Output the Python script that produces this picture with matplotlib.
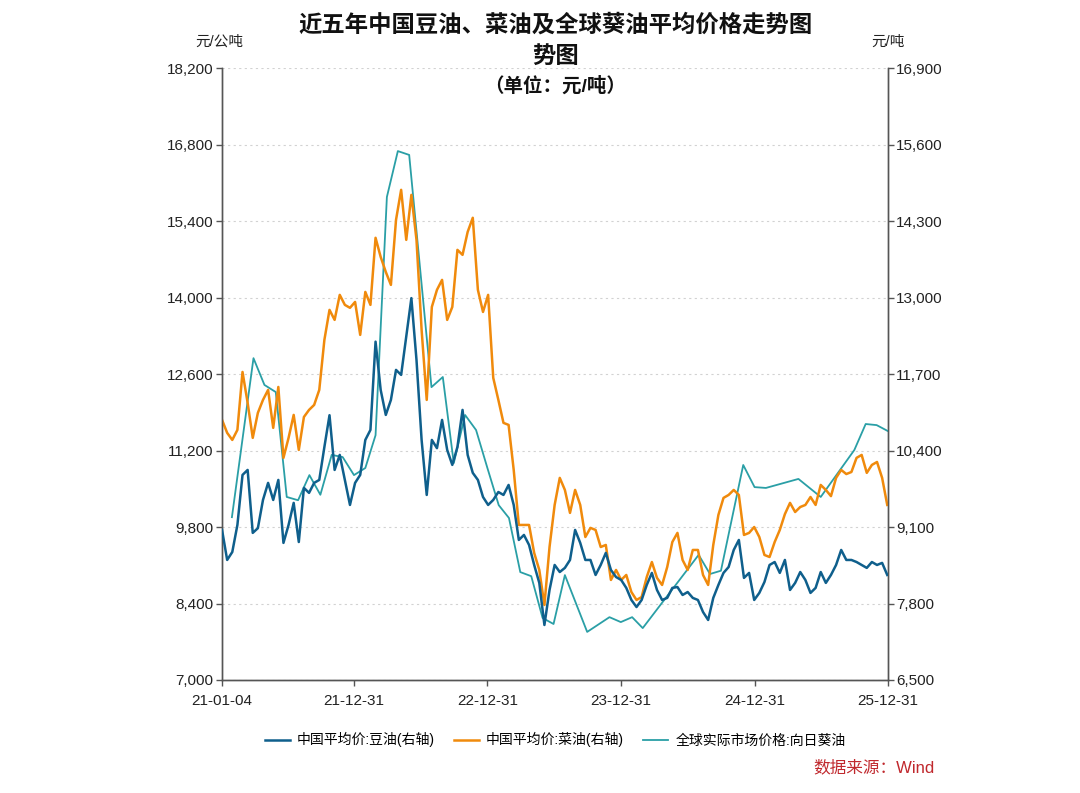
import numpy as np
import pandas as pd
import matplotlib
matplotlib.use("Agg")
import matplotlib.pyplot as plt
import matplotlib.dates as mdates
from matplotlib.ticker import FuncFormatter, FixedLocator

plt.rcParams['font.family'] = ['Liberation Sans', 'Noto Sans CJK SC', 'DejaVu Sans']

# --- data ---
# soybean / rapeseed oil, China average price, yuan/t (right axis), sampled every 14 days
pair_dates = pd.date_range('2021-01-04', periods=131, freq='14D')

soy_oil = [9050, 8540, 8675, 9135, 9985, 10070, 9000, 9080, 9560, 9850,
           9560, 9900, 8830, 9135, 9510, 8845, 9765, 9680, 9850, 9900,
           10460, 11000, 10070, 10325, 9900, 9475, 9850, 9985, 10580, 10750,
           12250, 11430, 11005, 11260, 11770, 11685, 12340, 12990, 11940, 10580,
           9645, 10580, 10440, 10920, 10410, 10155, 10460, 11090, 10325, 10020,
           9900, 9610, 9475, 9560, 9695, 9645, 9815, 9475, 8880, 8965,
           8795, 8455, 8150, 7435, 8030, 8455, 8335, 8405, 8540, 9050,
           8830, 8540, 8540, 8285, 8455, 8660, 8370, 8250, 8200, 8065,
           7860, 7740, 7860, 8115, 8320, 8030, 7860, 7895, 8065, 8080,
           7945, 7995, 7895, 7860, 7655, 7520, 7895, 8115, 8320, 8420,
           8710, 8880, 8235, 8320, 7860, 7980, 8165, 8455, 8505, 8320,
           8540, 8030, 8150, 8335, 8200, 7980, 8065, 8335, 8150, 8285,
           8455, 8710, 8540, 8540, 8505, 8455, 8405, 8505, 8455, 8490,
           8285]

rapeseed_oil = [10920, 10700, 10580, 10750, 11735, 11210, 10615, 11040, 11260, 11430,
                10785, 11480, 10275, 10615, 11005, 10410, 10970, 11090, 11175, 11430,
                12280, 12790, 12620, 13045, 12875, 12825, 12925, 12365, 13095, 12875,
                14015, 13690, 13435, 13215, 14320, 14830, 13980, 14745, 13980, 12450,
                11260, 12840, 13130, 13300, 12620, 12840, 13810, 13725, 14115, 14355,
                13130, 12755, 13045, 11635, 11260, 10870, 10835, 10070, 9135, 9135,
                9135, 8660, 8370, 7775, 8760, 9475, 9935, 9730, 9340, 9730,
                9475, 8930, 9085, 9050, 8760, 8795, 8200, 8370, 8200, 8285,
                7995, 7860, 7910, 8250, 8505, 8235, 8115, 8420, 8845, 9000,
                8540, 8370, 8710, 8710, 8285, 8115, 8795, 9305, 9595, 9645,
                9730, 9645, 8965, 9000, 9100, 8930, 8625, 8590, 8845, 9050,
                9320, 9510, 9355, 9440, 9475, 9610, 9475, 9815, 9730, 9625,
                9935, 10070, 10000, 10035, 10275, 10325, 10020, 10155, 10205, 9935,
                9475]

# global actual market price, sunflower oil, yuan/t (left axis), monthly
sun_dates = pd.to_datetime([
    '2021-01-31', '2021-03-31', '2021-04-30', '2021-05-31', '2021-06-30', '2021-07-31',
    '2021-08-31', '2021-09-30', '2021-10-31', '2021-11-30', '2021-12-31', '2022-01-31',
    '2022-02-28', '2022-03-31', '2022-04-30', '2022-05-31', '2022-07-31', '2022-08-31',
    '2022-09-30', '2022-10-31', '2022-11-30', '2022-12-31', '2023-01-31', '2023-02-28',
    '2023-03-31', '2023-04-30', '2023-05-31', '2023-06-30', '2023-07-31', '2023-09-30',
    '2023-11-30', '2023-12-31', '2024-01-31', '2024-02-29', '2024-07-31', '2024-08-31',
    '2024-09-30', '2024-11-30', '2024-12-31', '2025-01-31', '2025-04-30', '2025-06-30',
    '2025-09-30', '2025-10-31', '2025-11-30', '2025-12-31'])
sunflower_oil = [9980, 12890, 12400, 12270, 10350, 10290,
                 10750, 10390, 11120, 11080, 10750, 10880,
                 11480, 15840, 16680, 16610, 12360, 12545,
                 10970, 11850, 11575, 10880, 10200, 9965,
                 8975, 8900, 8135, 8025, 8920, 7880,
                 8150, 8060, 8150, 7950, 9290, 8940,
                 9000, 10935, 10530, 10515, 10680, 10350,
                 11210, 11685, 11665, 11555]

left_ticks = [7000, 8400, 9800, 11200, 12600, 14000, 15400, 16800, 18200]
right_ticks = [6500, 7800, 9100, 10400, 11700, 13000, 14300, 15600, 16900]
x_tick_dates = pd.to_datetime(['2021-01-04', '2021-12-31', '2022-12-31',
                               '2023-12-31', '2024-12-31', '2025-12-31'])
x_tick_labels = ['21-01-04', '21-12-31', '22-12-31', '23-12-31', '24-12-31', '25-12-31']

c_soy = '#0f5f8c'
c_rape = '#f08a0c'
c_sun = '#2a9fa6'
c_axis = '#555555'

fig = plt.figure(figsize=(10.8, 7.93), dpi=100)
ax = fig.add_axes([0.2056, 0.1425, 0.6166, 0.7717])
ax2 = ax.twinx()

ln_sun, = ax.plot(sun_dates, sunflower_oil, color=c_sun, lw=1.3, zorder=3)
ln_soy, = ax2.plot(pair_dates, soy_oil, color=c_soy, lw=1.8, zorder=3)
ln_rape, = ax2.plot(pair_dates, rapeseed_oil, color=c_rape, lw=1.8, zorder=2)

ax.set_ylim(7000, 18200)
ax2.set_ylim(6500, 16900)
ax.set_xlim(pd.Timestamp('2021-01-04'), pd.Timestamp('2025-12-31'))

ax.yaxis.set_major_locator(FixedLocator(left_ticks))
ax2.yaxis.set_major_locator(FixedLocator(right_ticks))
fmt = FuncFormatter(lambda v, p: f'{int(v):,}')
ax.yaxis.set_major_formatter(fmt)
ax2.yaxis.set_major_formatter(fmt)

ax.set_xticks(x_tick_dates)
ax.set_xticklabels(x_tick_labels)

ax.grid(axis='y', color='#d2d2d2', linestyle=(0, (2, 3)), lw=0.8)
for a in (ax, ax2):
    a.spines['top'].set_visible(False)
    for s in ('left', 'right', 'bottom'):
        a.spines[s].set_color(c_axis)
        a.spines[s].set_linewidth(1.0)
    a.tick_params(axis='both', colors=c_axis, labelcolor='#222222',
                  labelsize=11, length=4, width=1, pad=2)
ax.tick_params(axis='x', pad=6)

# axis units
fig.text(0.203, 0.947, '元/公吨', ha='center', va='center', fontsize=10.5, color='#222222')
fig.text(0.822, 0.947, '元/吨', ha='center', va='center', fontsize=10.5, color='#222222')

# title
fig.text(0.514, 0.968, '近五年中国豆油、菜油及全球葵油平均价格走势图', ha='center', va='center',
         fontsize=16.8, fontweight='bold', color='#111111')
fig.text(0.514, 0.929, '势图', ha='center', va='center',
         fontsize=16.8, fontweight='bold', color='#111111')
fig.text(0.514, 0.892, '（单位：元/吨）', ha='center', va='center',
         fontsize=14, fontweight='bold', color='#111111')

fig.legend([ln_soy, ln_rape, ln_sun],
           ['中国平均价:豆油(右轴)', '中国平均价:菜油(右轴)', '全球实际市场价格:向日葵油'],
           loc='center', bbox_to_anchor=(0.514, 0.067), ncol=3, frameon=False,
           fontsize=10, handlelength=1.8, columnspacing=1.4, handletextpad=0.5)

fig.text(0.865, 0.032, '数据来源：Wind', ha='right', va='center', fontsize=12, color='#c0282d')

fig.savefig('out.png', dpi=100, facecolor='white')
